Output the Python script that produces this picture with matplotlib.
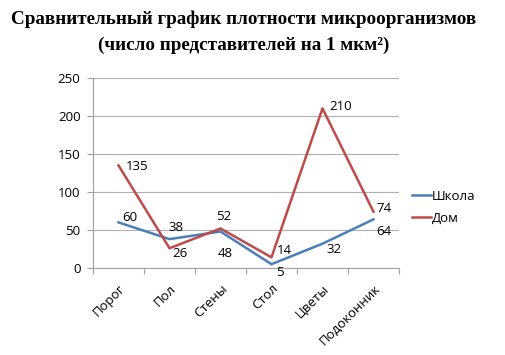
import matplotlib
matplotlib.use("Agg")
import matplotlib.pyplot as plt
import numpy as np

categories = ["Порог", "Пол", "Стены", "Стол", "Цветы", "Подоконник"]
school = [60, 38, 48, 5, 32, 64]
home = [135, 26, 52, 14, 210, 74]

# label offsets in pixels (dx, dy), text left-aligned and centred vertically
school_off = [(4, 5), (-1, 12), (-3, -22), (5, -8), (4, -6), (3, -12)]
home_off = [(7, -1), (3, -5), (-4, 12), (5, 7), (7, 2), (3, 3)]

plt.rcParams['font.family'] = ['Open Sans', 'DejaVu Sans']
fs = 9.5

fig = plt.figure(figsize=(5.06, 3.55), dpi=100)
ax = fig.add_axes([93/506, 1-268/355, (399-93)/506, (268-78)/355])

x = np.arange(len(categories))
blue = "#4a7ebb"
red = "#be4b48"
ax.plot(x, school, color=blue, lw=1.8, label="Школа")
ax.plot(x, home, color=red, lw=1.8, label="Дом")

for i, v in enumerate(school):
    ax.annotate(str(v), (x[i], v), xytext=school_off[i], textcoords="offset pixels",
                fontsize=fs, va="center", ha="left")
for i, v in enumerate(home):
    ax.annotate(str(v), (x[i], v), xytext=home_off[i], textcoords="offset pixels",
                fontsize=fs, va="center", ha="left")

ax.set_xlim(-0.5, len(categories)-0.5)
ax.set_ylim(0, 250)
ax.set_yticks(range(0, 251, 50))
ax.yaxis.grid(True, color="#b0b0b0", lw=0.8)
ax.set_axisbelow(True)
ax.set_xticks(np.arange(-0.5, len(categories), 1))
ax.set_xticklabels([])
ax.set_xticks(x, minor=True)
ax.set_xticklabels(categories, minor=True, rotation=45, ha="right", rotation_mode="anchor", fontsize=fs)
ax.tick_params(axis="x", which="minor", length=0, pad=10)
ax.tick_params(axis="x", which="major", length=4, color="#a0a0a0", direction="out")
ax.tick_params(axis="y", length=4, color="#a0a0a0", labelsize=fs, pad=5)
for s in ["top", "right"]:
    ax.spines[s].set_visible(False)
ax.spines["left"].set_color("#a0a0a0")
ax.spines["bottom"].set_color("#a0a0a0")

ax.legend(loc="center left", bbox_to_anchor=(1.0, 0.32), frameon=False, fontsize=fs,
          handlelength=1.4, handletextpad=0.1, labelspacing=0.7, borderaxespad=0.6)

fig.text(0.482, 0.945, "Сравнительный график плотности микроорганизмов", ha="center", va="center",
         family="Liberation Serif", weight="bold", fontsize=13.8)
fig.text(0.482, 0.873, "(число представителей на 1 мкм²)", ha="center", va="center",
         family="Liberation Serif", weight="bold", fontsize=13.8)

fig.savefig("out.png", dpi=100)
